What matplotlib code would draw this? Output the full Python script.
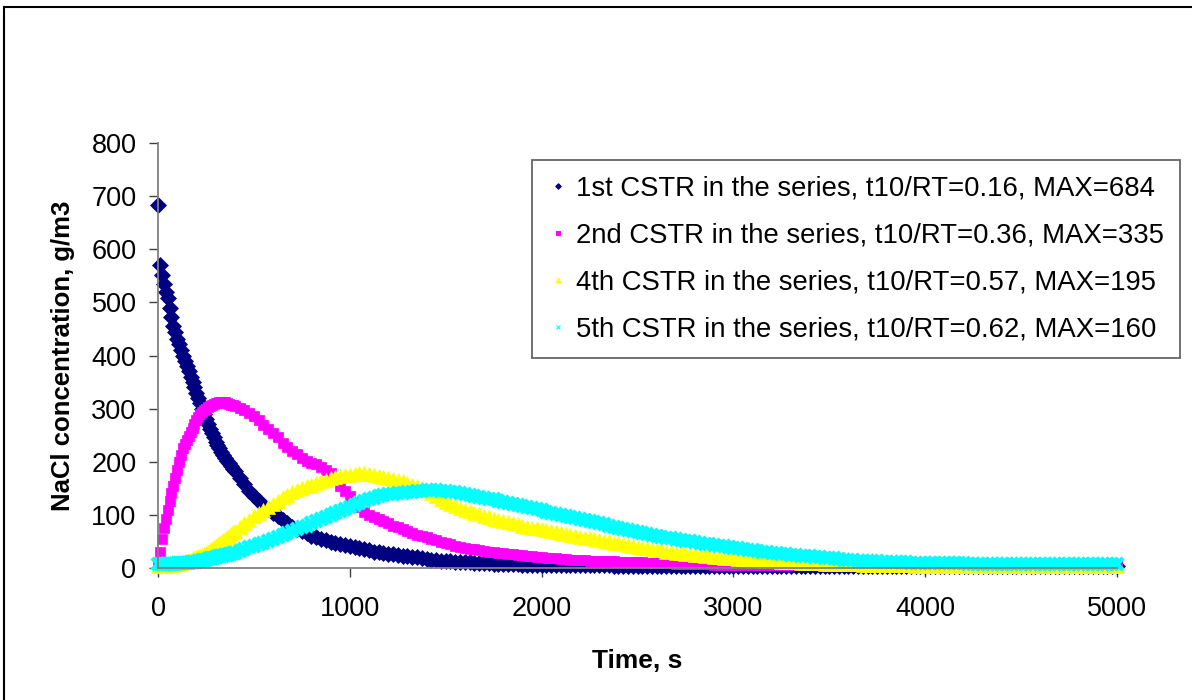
import numpy as np
import matplotlib
matplotlib.use("Agg")
import matplotlib.pyplot as plt
from matplotlib.patches import Rectangle

plt.rcParams['font.family'] = ['Liberation Sans', 'DejaVu Sans']

# time points of the read values, s: every 10 s up to 390 s, then every 25 s
time_s = np.concatenate([np.arange(0, 400, 10), np.arange(400, 5001, 25)])

# values (g/m3)
cstr1 = [684, 570, 552, 535, 520, 508, 490, 472, 456, 445,
         432, 421, 410, 400, 390, 380, 370, 360, 350, 340,
         330, 320, 310, 300, 290, 280, 271, 262, 254, 246,
         238, 231, 225, 219, 213, 207, 202, 197, 192, 187,
         # 400 s on
         182, 170, 158, 145,
         135, 126, 118, 111, 104, 97, 90, 84, 78, 73,
         69, 65, 61, 58, 55, 52, 49, 47, 45, 43,
         41, 39, 37, 35, 33, 31, 30, 28, 27, 26,
         25, 23, 22, 21, 20, 19, 17, 16, 15, 14,
         14, 13, 12, 12, 11, 11, 10, 10, 9, 9,
         8, 8, 8, 7, 7, 7, 6, 6, 6, 6,
         5, 5, 5, 5, 5, 5, 5, 5, 5, 5,
         5, 5, 5, 5, 5, 4, 4, 4, 4, 4,
         4, 4, 4, 4, 4, 4, 4, 4, 4, 4,
         4, 4, 4, 4, 4, 4, 4, 4, 4, 4,
         3, 3, 3, 3, 3, 3, 3, 3, 3, 3,
         3, 3, 3, 3, 3, 3, 3, 3, 3, 3,
         3, 3, 3, 3, 3, 3, 3, 3, 3, 3,
         3, 3, 3, 3, 3, 3, 3, 3, 3, 3,
         3, 3, 3, 3, 3, 3, 3, 3, 3, 3,
         3, 3, 3, 3, 3, 3, 3, 3, 3, 3,
         3, 3, 3, 3, 3, 3, 3, 3, 3, 3,
         3, 3, 3, 3, 3, 3, 3, 3, 3, 3,
         3]

cstr2 = [3, 30, 55, 75, 93, 110, 126, 141, 155, 170,
         185, 199, 212, 225, 234, 241, 248, 256, 263, 271,
         278, 284, 290, 294, 297, 300, 303, 305, 307, 309,
         310, 311, 312, 312, 312, 312, 310, 309, 307, 306,
         # 400 s on
         305, 302, 298, 292,
         286, 278, 270, 262, 254, 246, 236, 228, 220, 214,
         208, 202, 198, 195, 190, 185, 178, 168, 155, 145,
         135, 125, 115, 105, 100, 96, 92, 88, 84, 80,
         77, 73, 70, 66, 63, 60, 58, 55, 52, 49,
         47, 45, 42, 40, 38, 36, 35, 33, 32, 31,
         30, 29, 28, 27, 26, 25, 24, 23, 22, 21,
         20, 19, 18, 18, 17, 17, 16, 16, 15, 15,
         14, 14, 14, 13, 13, 13, 12, 12, 12, 11,
         11, 11, 10, 10, 10, 9, 9, 9, 8, 8,
         8, 8, 7, 7, 7, 7, 6, 6, 6, 6,
         6, 6, 6, 6, 5, 5, 5, 5, 5, 5,
         5, 5, 5, 5, 5, 5, 5, 5, 5, 5,
         5, 5, 5, 5, 5, 5, 5, 5, 5, 5,
         5, 5, 5, 5, 5, 5, 5, 5, 5, 5,
         5, 5, 5, 5, 5, 5, 5, 5, 5, 5,
         5, 5, 5, 5, 5, 5, 5, 5, 5, 5,
         5, 5, 5, 5, 5, 5, 5, 5, 5, 5,
         5, 5, 5, 5, 5, 5, 5, 5, 5, 5,
         5]

cstr4 = [3, 3, 3, 3, 4, 4, 5, 5, 6, 7,
         8, 9, 10, 11, 13, 14, 15, 16, 18, 19,
         20, 22, 23, 25, 27, 29, 31, 34, 36, 39,
         42, 44, 47, 49, 52, 55, 58, 61, 64, 67,
         # 400 s on
         70, 77, 84, 91,
         98, 104, 109, 115, 121, 127, 133, 138, 143, 147,
         151, 154, 157, 160, 163, 166, 169, 171, 173, 175,
         176, 177, 178, 178, 177, 176, 174, 172, 170, 168,
         166, 163, 160, 157, 154, 150, 146, 141, 136, 130,
         125, 121, 117, 113, 110, 107, 104, 101, 98, 96,
         93, 90, 88, 86, 84, 82, 80, 78, 76, 75,
         74, 72, 70, 67, 65, 64, 62, 60, 59, 57,
         56, 54, 53, 51, 50, 48, 47, 45, 43, 42,
         40, 38, 37, 35, 34, 33, 31, 30, 29, 28,
         27, 26, 25, 24, 23, 22, 21, 20, 19, 19,
         18, 17, 17, 16, 16, 15, 14, 14, 13, 13,
         12, 12, 11, 11, 10, 10, 9, 9, 9, 8,
         8, 8, 8, 7, 7, 7, 7, 6, 6, 6,
         6, 5, 5, 5, 5, 5, 5, 5, 4, 4,
         4, 4, 4, 4, 4, 4, 4, 4, 4, 4,
         4, 4, 4, 4, 4, 4, 4, 4, 4, 4,
         4, 4, 4, 4, 4, 4, 4, 4, 4, 4,
         4, 4, 4, 4, 4, 4, 4, 4, 4, 4,
         4]

cstr5 = [8, 8, 8, 8, 8, 8, 8, 8, 8, 8,
         9, 9, 9, 9, 10, 10, 10, 11, 11, 12,
         12, 13, 14, 15, 15, 16, 17, 18, 18, 19,
         20, 21, 22, 23, 23, 24, 25, 26, 27, 28,
         # 400 s on
         29, 32, 36, 39,
         42, 45, 48, 51, 55, 59, 63, 66, 70, 73,
         77, 80, 84, 88, 92, 96, 100, 104, 108, 112,
         115, 119, 123, 126, 129, 132, 135, 137, 139, 140,
         141, 142, 143, 144, 145, 145, 146, 146, 146, 145,
         145, 144, 143, 141, 140, 138, 136, 134, 132, 130,
         129, 127, 125, 123, 121, 119, 117, 115, 113, 111,
         109, 106, 104, 102, 100, 98, 96, 94, 92, 90,
         88, 86, 84, 82, 80, 78, 76, 74, 72, 70,
         68, 66, 64, 63, 61, 59, 57, 56, 54, 53,
         51, 50, 49, 47, 46, 45, 44, 42, 41, 39,
         38, 37, 35, 34, 33, 32, 31, 30, 29, 28,
         27, 26, 25, 24, 23, 22, 22, 21, 20, 19,
         18, 18, 17, 16, 15, 15, 14, 14, 13, 13,
         13, 12, 12, 12, 11, 11, 11, 10, 10, 10,
         10, 10, 9, 9, 9, 9, 9, 9, 9, 8,
         8, 8, 8, 8, 8, 8, 8, 8, 8, 8,
         8, 8, 8, 8, 8, 8, 8, 8, 8, 8,
         8, 8, 8, 8, 8, 8, 8, 8, 8, 8,
         8]

labels = ['1st CSTR in the series, t10/RT=0.16, MAX=684',
          '2nd CSTR in the series, t10/RT=0.36, MAX=335',
          '4th CSTR in the series, t10/RT=0.57, MAX=195',
          '5th CSTR in the series, t10/RT=0.62, MAX=160']

fig = plt.figure(figsize=(11.92, 7.0), dpi=100)
ax = fig.add_axes([158 / 1192, 1 - 568 / 700, 959 / 1192, 425 / 700])

styles = [(cstr1, '#000080', 'D', 8.0, 0.5),
          (cstr2, '#FF00FF', 's', 7.5, 0.5),
          (cstr4, '#FFFF00', '^', 9.5, 0.5),
          (cstr5, '#00FFFF', 'x', 8.0, 3.2)]
for (vals, col, mk, ms, mew), lab in zip(styles, labels):
    ax.plot(time_s, vals, linestyle='none', marker=mk, ms=ms, color=col,
            mec=col, mew=mew, label=lab, clip_on=False)

ax.set_xlim(0, 5000)
ax.set_ylim(0, 800)
ax.set_xticks(range(0, 5001, 1000))
ax.set_yticks(range(0, 801, 100))
for s in ['top', 'right']:
    ax.spines[s].set_visible(False)
for s in ['left', 'bottom']:
    ax.spines[s].set_color('#808080')
    ax.spines[s].set_linewidth(1.3)
ax.tick_params(direction='out', length=6.5, width=1, color='#404040',
               labelsize=19.5, pad=9)
ax.tick_params(axis='x', pad=14)

ax.set_xlabel('Time, s', fontsize=19, fontweight='bold', labelpad=19)
ax.set_ylabel('NaCl concentration, g/m3', fontsize=18.5, fontweight='bold', labelpad=12)

leg = ax.legend(loc='upper left', bbox_to_anchor=(532 / 1192, 1 - 160 / 700),
                bbox_transform=fig.transFigure, fontsize=19.8, markerscale=0.35,
                frameon=True, fancybox=False, borderpad=0.56, labelspacing=0.77,
                handlelength=0.8, handletextpad=0.25, borderaxespad=0)
leg.get_frame().set_edgecolor('#404040')
leg.get_frame().set_linewidth(1.3)
for h in leg.legend_handles:
    h.set_markeredgewidth(0.8)

# chart area border (only left and top show in the frame)
fig.add_artist(Rectangle((4 / 1192, -0.1), 1.2, 1.1 - 7 / 700, transform=fig.transFigure,
                         fill=False, ec='black', lw=1.5))

fig.savefig('out.png', dpi=100)
